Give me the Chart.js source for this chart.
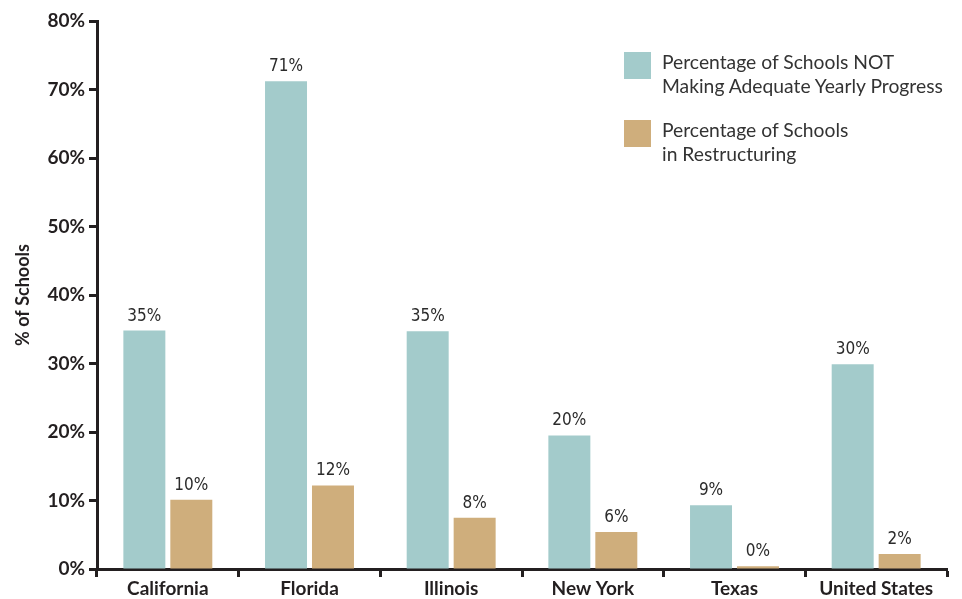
<!DOCTYPE html>
<html>
<head>
<meta charset="utf-8">
<script src="https://cdn.jsdelivr.net/npm/chart.js@4"></script>
<style>
  html, body { margin: 0; padding: 0; background: #fff; }
  #wrap { position: relative; width: 962px; height: 599px; }
  .legend { position: absolute; left: 624px; font-family: 'Lato', sans-serif; font-size: 19.3px; color: #333; line-height: 24px; }
  .legend .box { position: absolute; left: 0; width: 27px; height: 27px; }
  .legend .txt { position: absolute; left: 38px; white-space: nowrap; }
</style>
</head>
<body>
<div id="wrap">
  <canvas id="chart" width="962" height="599"></canvas>
  <div class="legend" style="top:52px">
    <div class="box" style="background:#A3CBCB"></div>
    <div class="txt" style="top:-2px">Percentage of Schools NOT<br>Making Adequate Yearly Progress</div>
  </div>
  <div class="legend" style="top:120px">
    <div class="box" style="background:#CFAE7C"></div>
    <div class="txt" style="top:-2px">Percentage of Schools<br>in Restructuring</div>
  </div>
</div>
<script>
// values
const states = ['California', 'Florida', 'Illinois', 'New York', 'Texas', 'United States']
const notAyp = [34.8, 71.2, 34.7, 19.5, 9.3, 29.9]
const restructuring = [10.1, 12.2, 7.5, 5.4, 0.4, 2.2]
const notAypLabels = ['35%', '71%', '35%', '20%', '9%', '30%']
const restructuringLabels = ['10%', '12%', '8%', '6%', '0%', '2%']
const yTicks = [0, 10, 20, 30, 40, 50, 60, 70, 80]

// value labels above bars
const barLabels = {
  id: 'barLabels',
  afterDatasetsDraw(chart) {
    const ctx = chart.ctx
    const texts = [notAypLabels, restructuringLabels]
    ctx.save()
    ctx.font = '17px "DejaVu Sans Condensed", sans-serif'
    ctx.fillStyle = '#2b2b2b'
    ctx.textAlign = 'center'
    ctx.textBaseline = 'bottom'
    chart.data.datasets.forEach((ds, i) => {
      chart.getDatasetMeta(i).data.forEach((bar, j) => {
        ctx.fillText(texts[i][j], bar.x, bar.y - 6)
      })
    })
    ctx.restore()
  }
}

new Chart(document.getElementById('chart'), {
  type: 'bar',
  data: {
    labels: states,
    datasets: [
      { label: 'Percentage of Schools NOT Making Adequate Yearly Progress', data: notAyp, backgroundColor: '#A3CBCB' },
      { label: 'Percentage of Schools in Restructuring', data: restructuring, backgroundColor: '#CFAE7C' }
    ]
  },
  options: {
    responsive: false,
    animation: false,
    categoryPercentage: 0.663,
    barPercentage: 0.894,
    layout: { padding: { top: 21, right: 15, left: 0, bottom: 0 } },
    plugins: {
      legend: { display: false },
      tooltip: { enabled: false }
    },
    scales: {
      x: {
        grid: { offset: true, drawOnChartArea: false, drawTicks: true, tickLength: 8, tickWidth: 3, tickColor: '#231f20' },
        border: { display: true, width: 3, color: '#231f20' },
        ticks: { color: '#231f20', font: { family: 'Lato', size: 19, weight: 'bold' }, padding: 0 },
        afterFit(axis) { axis.height = 30 }
      },
      y: {
        min: 0,
        max: 80,
        afterBuildTicks(axis) { axis.ticks = yTicks.map(v => ({ value: v })) },
        grid: { drawOnChartArea: false, drawTicks: true, tickLength: 8, tickWidth: 3, tickColor: '#231f20' },
        border: { display: true, width: 3, color: '#231f20' },
        ticks: {
          color: '#231f20',
          font: { family: 'Lato', size: 19, weight: 'bold' },
          padding: 4,
          callback: v => v + '%'
        },
        title: {
          display: true,
          text: '% of Schools',
          color: '#231f20',
          font: { family: 'Lato', size: 18, weight: 'bold' },
          padding: { top: 12, bottom: 0 }
        },
        afterFit(axis) { axis.width = 97 }
      }
    }
  },
  plugins: [barLabels]
})
</script>
</body>
</html>
